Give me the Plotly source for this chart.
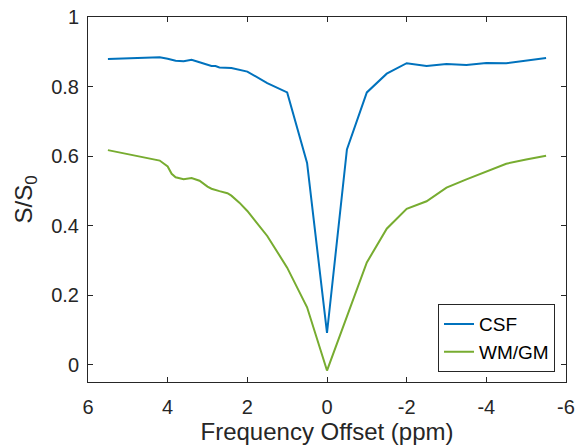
import plotly.graph_objects as go

csf_x = [5.5, 4.2, 4.0, 3.8, 3.6, 3.4, 3.2, 3.0, 2.9, 2.8, 2.7, 2.4, 2.2, 2.0, 1.5, 1.0, 0.5, 0.0,
         -0.5, -1.0, -1.5, -2.0, -2.5, -3.0, -3.5, -4.0, -4.5, -5.0, -5.5]
csf_y = [0.879, 0.884, 0.880, 0.874, 0.873, 0.877, 0.870, 0.864, 0.859, 0.859, 0.855, 0.853, 0.849, 0.843,
         0.810, 0.783, 0.580, 0.091,
         0.619, 0.783, 0.837, 0.867, 0.859, 0.865, 0.862, 0.868, 0.867, 0.875, 0.882]

wm_x = [5.5, 4.2, 4.0, 3.9, 3.8, 3.6, 3.4, 3.2, 3.0, 2.9, 2.7, 2.5, 2.4, 2.2, 2.0, 1.5, 1.0, 0.5, 0.0,
        -0.5, -1.0, -1.5, -2.0, -2.5, -3.0, -3.5, -4.0, -4.5, -5.0, -5.5]
wm_y = [0.617, 0.587, 0.570, 0.549, 0.539, 0.533, 0.537, 0.529, 0.512, 0.506, 0.499, 0.493, 0.486, 0.466,
        0.442, 0.370, 0.279, 0.165, -0.017,
        0.140, 0.294, 0.391, 0.448, 0.470, 0.509, 0.533, 0.556, 0.578, 0.590, 0.601]

x_ticks = [6, 4, 2, 0, -2, -4, -6]
y_ticks = [0, 0.2, 0.4, 0.6, 0.8, 1]

axis_color = "#262626"
font_family = "Liberation Sans, Arial, sans-serif"

fig = go.Figure()
fig.add_trace(go.Scatter(x=csf_x, y=csf_y, mode="lines", name="CSF",
                         line=dict(color="#0072BD", width=2)))
fig.add_trace(go.Scatter(x=wm_x, y=wm_y, mode="lines", name="WM/GM",
                         line=dict(color="#77AC30", width=2)))

common_axis = dict(
    showline=True, linecolor=axis_color, linewidth=1, mirror="ticks",
    ticks="inside", ticklen=5, tickcolor=axis_color, tickwidth=1,
    showgrid=False, zeroline=False, automargin=False,
    tickfont=dict(family=font_family, size=20, color=axis_color),
)

fig.update_layout(
    width=579, height=447,
    margin=dict(l=88, r=13, t=17, b=65),
    paper_bgcolor="white", plot_bgcolor="white",
    font=dict(family=font_family, color=axis_color),
    xaxis=dict(range=[6, -6], tickvals=x_ticks, ticktext=[str(v) for v in x_ticks],
               title=dict(text="Frequency Offset (ppm)", font=dict(family=font_family, size=24, color=axis_color),
                          standoff=3),
               ticklabelstandoff=7,
               **common_axis),
    yaxis=dict(range=[-0.05, 1], tickvals=y_ticks, ticktext=["0", "0.2", "0.4", "0.6", "0.8", "1"],
               title=dict(text="S/S<sub>0</sub>", font=dict(family=font_family, size=24, color=axis_color),
                          standoff=11),
               ticklabelstandoff=4,
               **common_axis),
    legend=dict(x=0.977, y=0.027, xanchor="right", yanchor="bottom",
                bordercolor=axis_color, borderwidth=1, bgcolor="white",
                font=dict(family=font_family, size=19, color="black"),
                tracegroupgap=0, itemwidth=30),
    showlegend=True,
)

fig.write_html("out.html")
